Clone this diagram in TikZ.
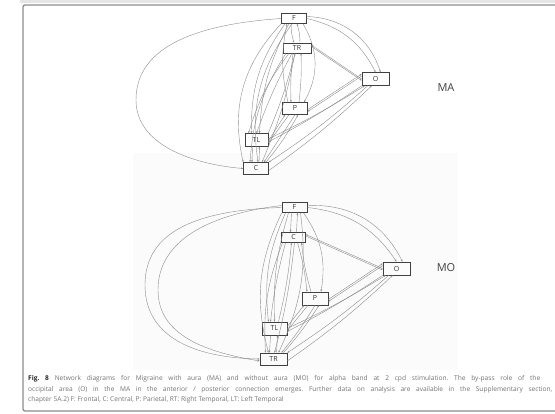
\documentclass[tikz,border=0pt]{standalone}
\usepackage{fontspec}
\setmainfont{Open Sans}
\setsansfont{Open Sans}
\usetikzlibrary{arrows.meta}
\frenchspacing
\begin{document}
\begin{tikzpicture}[x=1pt,y=-1pt,
  box/.style={draw=black!75, line width=0.6pt, minimum width=25pt, minimum height=10pt, inner sep=0pt, font=\sffamily\fontsize{7}{7}\selectfont, text=black!80},
  ed/.style={draw=black!45, line width=0.4pt, -{Stealth[length=2.2pt,width=1.8pt]}},
  captxt/.style={anchor=west, inner sep=0pt, font=\sffamily\fontsize{6.6}{7}\selectfont, text=black!55},
  grp/.style={font=\sffamily\fontsize{11}{11}\selectfont, text=black!75}
]
\useasboundingbox (0,0) rectangle (555,414);
% frame
\fill[black!10] (20,0) rectangle (555,3);
\draw[black!45, line width=1.3pt, rounded corners=2pt] (23,5) rectangle (575,411);
\fill[black!1.5] (133,153) rectangle (458,370);

% ---------------- MA ----------------
\node[box] (maF) at (294,18.5) {F};
\node[box, minimum width=28pt] (maTR) at (297,48) {TR};
\node[box, minimum width=27pt, minimum height=13pt] (maO) at (375.5,79) {O};
\node[box, minimum height=12pt] (maP) at (295,108.5) {P};
\node[box, minimum width=23pt, minimum height=13pt] (maTL) at (256.5,140) {TL};
\node[box, minimum height=12pt] (maC) at (256,168.5) {C};
\node[grp] (maLab) at (446,88) {MA};

\draw[ed] (maF.west) .. controls (200,24) and (136,45) .. (136,100) .. controls (136,148) and (200,165) .. (maC.west);
\draw[ed] ([xshift=-3pt]maF.south) to[bend right=8] ([xshift=-3pt]maTR.north);
\draw[ed] ([xshift=3pt]maTR.north) to[bend right=8] ([xshift=3pt]maF.south);
\draw[ed] (maF.east) to[bend left=25] (maO.north);
\draw[ed] ([yshift=2pt]maF.east) to[bend left=35] ([xshift=5pt]maO.north);
\draw[ed] ([xshift=9pt]maF.south) to[bend left=30] ([xshift=9pt]maP.north);
\draw[ed] ([xshift=-7pt]maP.north) to[bend left=12] ([xshift=-7pt]maF.south);
\draw[ed] ([xshift=-9pt]maF.south) to[bend right=18] ([xshift=-5pt]maTL.north);
\draw[ed] ([xshift=-5pt]maF.south) to[bend right=12] ([xshift=3pt]maTL.north);
\draw[ed] (maF.south west) to[bend right=28] (maC.north west);
\draw[ed] ([xshift=-2pt]maF.south) to[bend right=22] ([xshift=2pt]maC.north);
\draw[ed] ([yshift=1.5pt]maTR.east) -- ([yshift=-1.5pt]maO.west);
\draw[ed] ([yshift=0pt]maO.west) -- ([yshift=3pt]maTR.east);
\draw[ed] ([xshift=-4pt]maTR.south) to[bend right=4] ([xshift=-4pt]maP.north);
\draw[ed] ([xshift=4pt]maP.north) to[bend right=4] ([xshift=4pt]maTR.south);
\draw[ed] ([xshift=-8pt]maTR.south) to[bend right=10] ([xshift=-8pt]maTL.north);
\draw[ed] ([xshift=-5pt]maTR.south) to[bend right=4] (maTL.north);
\draw[ed] (maTL.north east) to[bend right=4] ([xshift=-2pt]maTR.south);
\draw[ed] ([xshift=-11pt]maTR.south) to[bend right=14] ([xshift=-6pt]maC.north);
\draw[ed] ([xshift=-2pt]maTR.south) to[bend left=6] ([xshift=6pt]maC.north);
\draw[ed] ([yshift=3pt]maO.west) -- ([yshift=-3pt]maP.east);
\draw[ed] ([yshift=-1pt]maP.east) -- ([yshift=5pt]maO.west);
\draw[ed] (maO.south west) to[bend left=3] ([yshift=-2pt]maTL.east);
\draw[ed] ([yshift=1pt]maTL.east) to[bend right=3] ([xshift=3pt]maO.south west);
\draw[ed] ([xshift=6pt]maO.south west) to[bend left=4] (maC.north east);
\draw[ed] ([yshift=-2pt]maC.east) to[bend right=4] ([xshift=10pt]maO.south west);
\draw[ed] ([xshift=-6pt]maP.south) -- ([yshift=-3pt]maTL.east);
\draw[ed] ([yshift=-1pt]maTL.east) -- ([xshift=-10pt]maP.south);
\draw[ed] (maP.south) -- ([xshift=8pt]maC.north);
\draw[ed] ([xshift=10pt]maC.north) to[bend right=5] ([xshift=3pt]maP.south);
\draw[ed] ([xshift=-4pt]maTL.south) -- ([xshift=-4pt]maC.north);
\draw[ed] ([xshift=3pt]maC.north) -- ([xshift=3pt]maTL.south);

% ---------------- MO ----------------
\node[box] (moF) at (294.5,207.5) {F};
\node[box, minimum width=24pt] (moC) at (293.5,237.5) {C};
\node[box, minimum width=27pt, minimum height=13pt] (moO) at (396.5,268.5) {O};
\node[box, minimum width=26pt, minimum height=13pt] (moP) at (315,298.5) {P};
\node[box, minimum height=13pt] (moTL) at (274.5,328.5) {TL};
\node[box, minimum width=27pt, minimum height=12pt] (moTR) at (273.5,359) {TR};
\node[grp] (moLab) at (446,268) {MO};

\draw[ed] (moF.west) .. controls (200,210) and (145,230) .. (145,285) .. controls (145,340) and (200,358) .. (moTR.west);
\draw[ed] ([yshift=2pt]moF.west) .. controls (210,214) and (158,240) .. (158,290) .. controls (158,335) and (205,352) .. ([yshift=-2pt]moTR.west);
\draw[ed] ([xshift=-3pt]moF.south) -- ([xshift=-3pt]moC.north);
\draw[ed] ([xshift=3pt]moC.north) -- ([xshift=3pt]moF.south);
\draw[ed] (moF.east) to[bend left=25] (moO.north);
\draw[ed] ([yshift=2pt]moF.east) to[bend left=33] ([xshift=6pt]moO.north);
\draw[ed] ([xshift=9pt]moF.south) to[bend left=22] ([xshift=6pt]moP.north);
\draw[ed] ([xshift=-9pt]moF.south) to[bend right=15] ([xshift=-6pt]moTL.north);
\draw[ed] ([xshift=-6pt]moF.south) to[bend right=9] ([xshift=0pt]moTL.north);
\draw[ed] (moF.south west) to[bend right=20] ([xshift=-5pt]moTR.north);
\draw[ed] ([xshift=6pt]moF.south) to[bend left=16] ([xshift=5pt]moTR.north);
\draw[ed] ([yshift=1.5pt]moC.east) -- ([yshift=-1.5pt]moO.west);
\draw[ed] ([yshift=0pt]moO.west) -- ([yshift=3pt]moC.east);
\draw[ed] ([xshift=4pt]moC.south) to[bend left=5] ([xshift=-8pt]moP.north);
\draw[ed] ([xshift=-4pt]moP.north) to[bend left=5] ([xshift=8pt]moC.south);
\draw[ed] ([xshift=-8pt]moC.south) to[bend right=4] ([xshift=-4pt]moTL.north);
\draw[ed] ([xshift=4pt]moTL.north) to[bend right=4] ([xshift=-2pt]moC.south);
\draw[ed] ([xshift=-11pt]moC.south) to[bend right=12] ([xshift=-8pt]moTR.north);
\draw[ed] ([xshift=1pt]moC.south) to[bend left=4] ([xshift=1pt]moTR.north);
\draw[ed] ([yshift=3pt]moO.west) -- ([yshift=-3pt]moP.east);
\draw[ed] ([yshift=-1pt]moP.east) -- ([yshift=5pt]moO.west);
\draw[ed] (moO.south west) to[bend left=3] ([yshift=-3pt]moTL.east);
\draw[ed] ([yshift=0pt]moTL.east) to[bend right=3] ([xshift=3pt]moO.south west);
\draw[ed] ([xshift=6pt]moO.south west) to[bend left=4] (moTR.north east);
\draw[ed] ([yshift=-2pt]moTR.east) to[bend right=4] ([xshift=10pt]moO.south west);
\draw[ed] ([xshift=-7pt]moP.south) -- ([yshift=-2pt]moTL.east);
\draw[ed] ([yshift=2pt]moTL.east) -- ([xshift=-11pt]moP.south);
\draw[ed] (moP.south) to[bend left=4] ([xshift=8pt]moTR.north);
\draw[ed] ([xshift=10pt]moTR.north) to[bend right=4] ([xshift=4pt]moP.south);
\draw[ed] ([xshift=-4pt]moTL.south) -- ([xshift=-4pt]moTR.north);
\draw[ed] ([xshift=3pt]moTR.north) -- ([xshift=3pt]moTL.south);

% caption
\node[captxt] (cap1) at (28,379) {\makebox[512pt][s]{{\bfseries\color{black!85}Fig.~8}~Network diagrams for Migraine with aura (MA) and without aura (MO) for alpha band at 2 cpd stimulation. The by-pass role of the}};
\node[captxt] (cap2) at (28,389.5) {\makebox[524pt][s]{occipital area (O) in the MA in the anterior / posterior connection emerges. Further data on analysis are available in the Supplementary section,}};
\node[captxt] (cap3) at (28,400) {chapter 5A.2) F: Frontal, C: Central, P: Parietal, RT: Right Temporal, LT: Left Temporal};
\end{tikzpicture}
\end{document}
